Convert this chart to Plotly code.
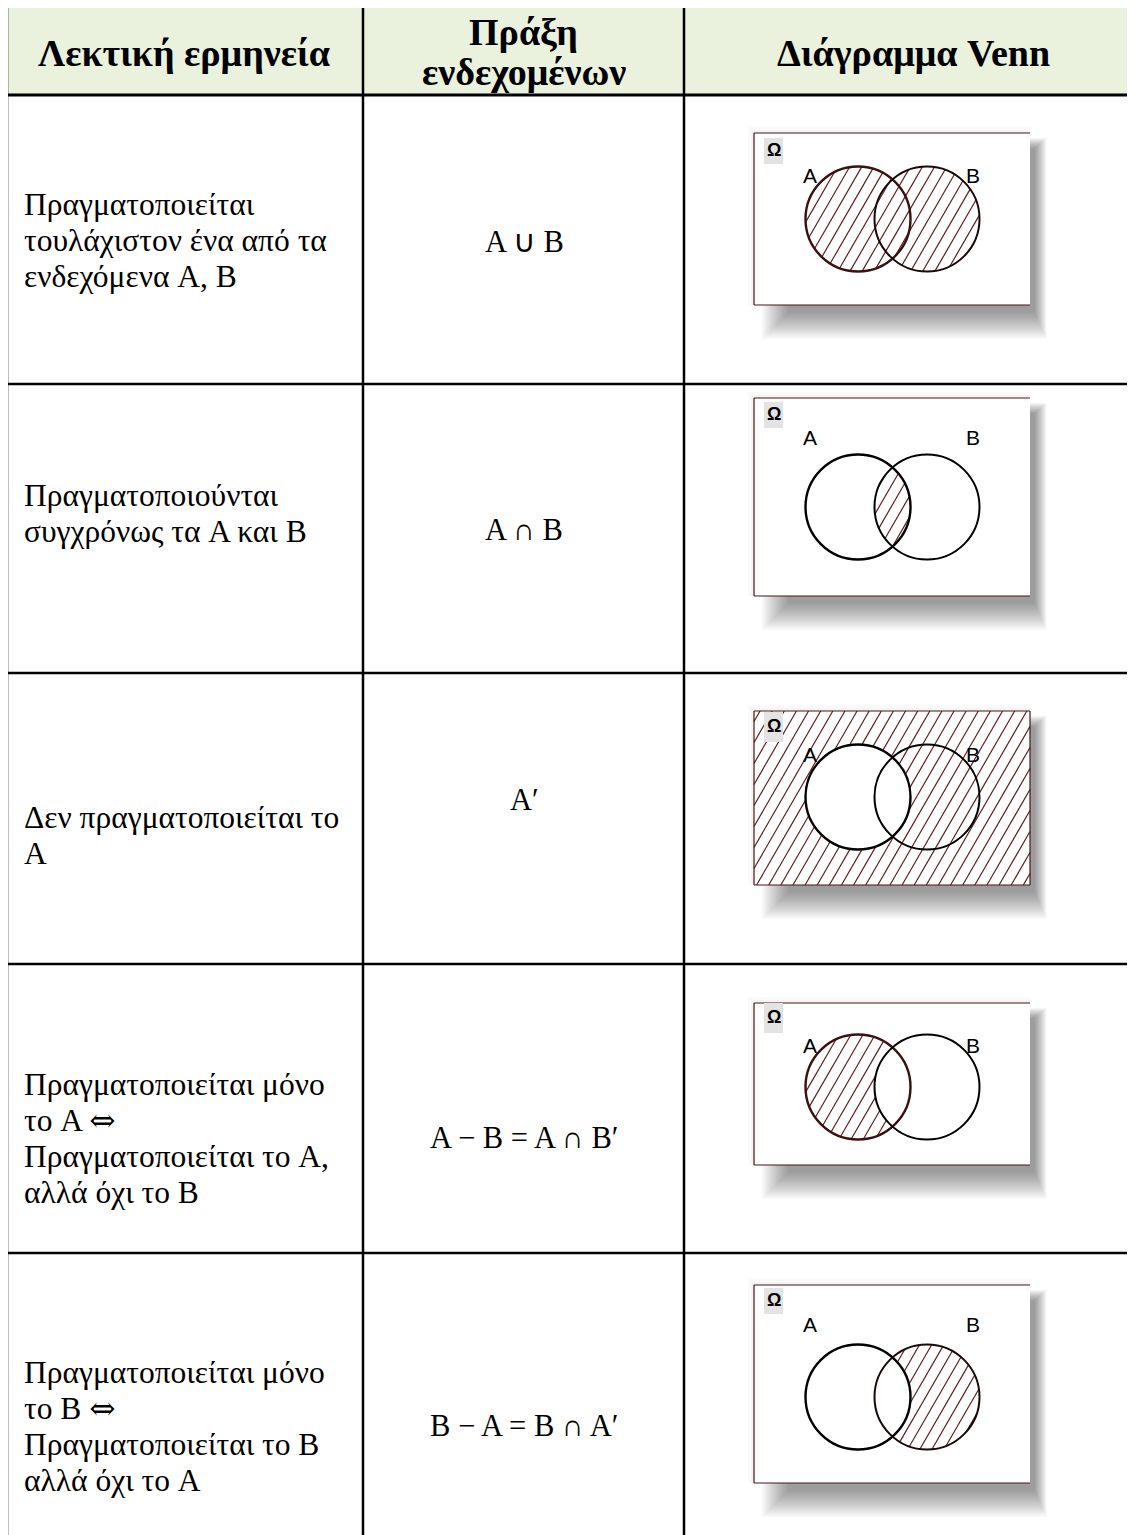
import math
import plotly.graph_objects as go

# ---------------- data ----------------
headers = ["Λεκτική ερμηνεία", "Πράξη<br>ενδεχομένων", "Διάγραμμα Venn"]
descriptions = [
    ["Πραγματοποιείται", "τουλάχιστον ένα από τα", "ενδεχόμενα A, B"],
    ["Πραγματοποιούνται", "συγχρόνως τα A και B"],
    ["Δεν πραγματοποιείται το", "A"],
    ["Πραγματοποιείται μόνο", "το A ⇔", "Πραγματοποιείται το A,", "αλλά όχι το B"],
    ["Πραγματοποιείται μόνο", "το B ⇔", "Πραγματοποιείται το B", "αλλά όχι το A"],
]
operations = ["A ∪ B", "A ∩ B", "A′", "A − B = A ∩ B′", "B − A = B ∩ A′"]
venn_regions = ["union", "inter", "compA", "AminusB", "BminusA"]
set_labels = ["Ω", "A", "B"]

# ---------------- layout geometry ----------------
W, H = 1135, 1535
PAGE_MARGIN = 8  # default body margin of the html page
x_left, x_c1, x_c2, x_right = 7, 363, 684, 1140
y_top, y_head = 7, 95
row_bounds = [95, 384, 673, 964, 1253, 1540]
text_x = 22
line_gap = 36
op_x = 524
text_mid = [240, 513, 835, 1138, 1426]
op_y = [242, 530, 800, 1138, 1426]

# venn box geometry per row: (box_top, box_bottom, circle_cy, label_y, omega_top, omega_bottom)
venn_geo = [
    (133, 305, 219, 175, 138, 164),
    (398, 596, 507, 437, 402, 428),
    (711, 885, 797, 754, 712, 742),
    (1003, 1165, 1087, 1045, 1003, 1033),
    (1285, 1483, 1397, 1324, 1288, 1314),
]
box_x0, box_x1 = 754, 1030
ax_c, bx_c, rad = 858, 927, 52.5

shapes = []
annotations = []
traces = []

# header background
shapes.append(dict(type="rect", xref="x", yref="y", x0=x_left, x1=x_right, y0=y_top, y1=y_head,
                   fillcolor="#EAF1DD", line=dict(width=0), layer="below"))

# shadows and boxes
for (bt, bb, cy, ly, ot, ob) in venn_geo:
    n = 16
    for i in range(n):
        e = 28 * (1 - i / n)
        shapes.append(dict(type="rect", xref="x", yref="y",
                           x0=box_x0 + 36 - e, x1=box_x1 + 4 + e * 0.45,
                           y0=bt + 16 - e * 0.4, y1=bb + 6 + e,
                           fillcolor="rgba(0,0,0,0.028)", line=dict(width=0), layer="below"))
    # faint glow around
    for e in (6, 3):
        shapes.append(dict(type="rect", xref="x", yref="y", x0=box_x0 - e, x1=box_x1, y0=bt - e, y1=bb,
                           fillcolor="rgba(0,0,0,0.02)", line=dict(width=0), layer="below"))
    shapes.append(dict(type="rect", xref="x", yref="y", x0=box_x0, x1=box_x1, y0=bt, y1=bb,
                       fillcolor="white", line=dict(width=0), layer="below"))


def inside(px, py, region, bt, bb, cy):
    inbox = box_x0 <= px <= box_x1 and bt <= py <= bb
    ina = (px - ax_c) ** 2 + (py - cy) ** 2 <= rad ** 2
    inb = (px - bx_c) ** 2 + (py - cy) ** 2 <= rad ** 2
    if not inbox:
        return False
    if region == "union":
        return ina or inb
    if region == "inter":
        return ina and inb
    if region == "compA":
        return not ina
    if region == "AminusB":
        return ina and not inb
    if region == "BminusA":
        return inb and not ina
    return False


ang = math.radians(60)
dx, dy = math.cos(ang), -math.sin(ang)
nx, ny = math.sin(ang), math.cos(ang)
spacing = 10.5

for region, (bt, bb, cy, ly, ot, ob) in zip(venn_regions, venn_geo):
    xs, ys = [], []
    corners = [(box_x0, bt), (box_x1, bt), (box_x0, bb), (box_x1, bb)]
    cs = [nx * px + ny * py for px, py in corners]
    c = min(cs) + spacing / 2
    while c < max(cs):
        p0x, p0y = c * nx, c * ny
        ts = [(box_x0 - p0x) / dx, (box_x1 - p0x) / dx, (bt - p0y) / dy, (bb - p0y) / dy]
        for cx in (ax_c, bx_c):
            fx, fy = p0x - cx, p0y - cy
            b = fx * dx + fy * dy
            cc = fx * fx + fy * fy - rad * rad
            disc = b * b - cc
            if disc > 0:
                s = math.sqrt(disc)
                ts += [-b - s, -b + s]
        ts.sort()
        for t0, t1 in zip(ts[:-1], ts[1:]):
            if t1 - t0 < 1e-6:
                continue
            tm = (t0 + t1) / 2
            if inside(p0x + tm * dx, p0y + tm * dy, region, bt, bb, cy):
                xs += [p0x + t0 * dx, p0x + t1 * dx, None]
                ys += [p0y + t0 * dy, p0y + t1 * dy, None]
        c += spacing
    traces.append(go.Scatter(x=xs, y=ys, mode="lines", line=dict(color="#5a2020", width=1.2),
                             hoverinfo="skip", showlegend=False))

# borders, circles, labels
for region, (bt, bb, cy, ly, ot, ob) in zip(venn_regions, venn_geo):
    bc = "#4a1414"
    for (x0, y0, x1, y1) in [(box_x0, bt, box_x1, bt), (box_x0, bb, box_x1, bb), (box_x0, bt, box_x0, bb)]:
        shapes.append(dict(type="line", xref="x", yref="y", x0=x0, y0=y0, x1=x1, y1=y1,
                           line=dict(color=bc, width=1.2), layer="above"))
    if region == "compA":
        shapes.append(dict(type="line", xref="x", yref="y", x0=box_x1, y0=bt, x1=box_x1, y1=bb,
                           line=dict(color=bc, width=1.2), layer="above"))
    # omega box
    shapes.append(dict(type="rect", xref="x", yref="y", x0=764, x1=783, y0=ot, y1=ob,
                       fillcolor="#E3E3E3", line=dict(width=0), layer="above"))
    annotations.append(dict(x=773.5, y=(ot + ob) / 2 - 1, text="<b>" + set_labels[0] + "</b>", showarrow=False,
                            xref="x", yref="y", font=dict(family="Liberation Sans", size=18, color="black")))
    annotations.append(dict(x=810, y=ly, text=set_labels[1], showarrow=False, xref="x", yref="y",
                            font=dict(family="Liberation Sans", size=21, color="black")))
    annotations.append(dict(x=973, y=ly, text=set_labels[2], showarrow=False, xref="x", yref="y",
                            font=dict(family="Liberation Sans", size=21, color="black")))
    ca = "#3a1010" if region in ("union", "AminusB") else "black"
    cb = "#1a0808" if region in ("union", "BminusA") else "black"
    shapes.append(dict(type="circle", xref="x", yref="y", x0=ax_c - rad, x1=ax_c + rad, y0=cy - rad,
                       y1=cy + rad, line=dict(color=ca, width=2.4), layer="above"))
    shapes.append(dict(type="circle", xref="x", yref="y", x0=bx_c - rad, x1=bx_c + rad, y0=cy - rad,
                       y1=cy + rad, line=dict(color=cb, width=2), layer="above"))

# table lines
lc = "black"
shapes.append(dict(type="line", xref="x", yref="y", x0=x_left, x1=x_right, y0=y_top, y1=y_top,
                   line=dict(color=lc, width=2), layer="above"))
for yb in row_bounds[:-1]:
    shapes.append(dict(type="line", xref="x", yref="y", x0=x_left, x1=x_right, y0=yb, y1=yb,
                       line=dict(color=lc, width=3 if yb == y_head else 2.5), layer="above"))
for xv in (x_left, x_c1, x_c2):
    shapes.append(dict(type="line", xref="x", yref="y", x0=xv, x1=xv, y0=y_top, y1=H + 5,
                       line=dict(color=lc, width=2.5), layer="above"))

# header text
hfont = dict(family="Liberation Serif", size=38, color="black")
annotations.append(dict(x=184, y=53, text="<b>" + headers[0] + "</b>",
                        showarrow=False, xref="x", yref="y", font=hfont))
h2 = headers[1].split("<br>")
annotations.append(dict(x=(x_c1 + x_c2) / 2, y=32, text="<b>" + h2[0] + "</b>", showarrow=False,
                        xref="x", yref="y", font=hfont))
annotations.append(dict(x=(x_c1 + x_c2) / 2, y=72, text="<b>" + h2[1] + "</b>", showarrow=False,
                        xref="x", yref="y", font=hfont))
annotations.append(dict(x=913, y=53, text="<b>" + headers[2] + "</b>",
                        showarrow=False, xref="x", yref="y", font=hfont))

# body text
bfont = dict(family="Liberation Serif", size=31.5, color="black")
ofont = dict(family="Liberation Serif", size=30.5, color="black")
for i, lines in enumerate(descriptions):
    n = len(lines)
    for j, t in enumerate(lines):
        yy = text_mid[i] + (j - (n - 1) / 2) * line_gap
        t = t.replace("⇔", "<span style='font-family:DejaVu Serif'>⇔</span>")
        annotations.append(dict(x=text_x, y=yy, text=t, showarrow=False, xref="x", yref="y",
                                xanchor="left", font=bfont))
    annotations.append(dict(x=op_x, y=op_y[i], text=operations[i], showarrow=False, xref="x", yref="y",
                            font=ofont))

fig = go.Figure(traces)
fig.update_layout(
    width=W - PAGE_MARGIN, height=H - PAGE_MARGIN, margin=dict(l=0, r=0, t=0, b=0),
    paper_bgcolor="white", plot_bgcolor="white",
    xaxis=dict(range=[PAGE_MARGIN, W], visible=False, fixedrange=True),
    yaxis=dict(range=[H, PAGE_MARGIN], visible=False, fixedrange=True),
    shapes=shapes, annotations=annotations, showlegend=False,
)
fig.write_html("out.html", config={"displayModeBar": False})
